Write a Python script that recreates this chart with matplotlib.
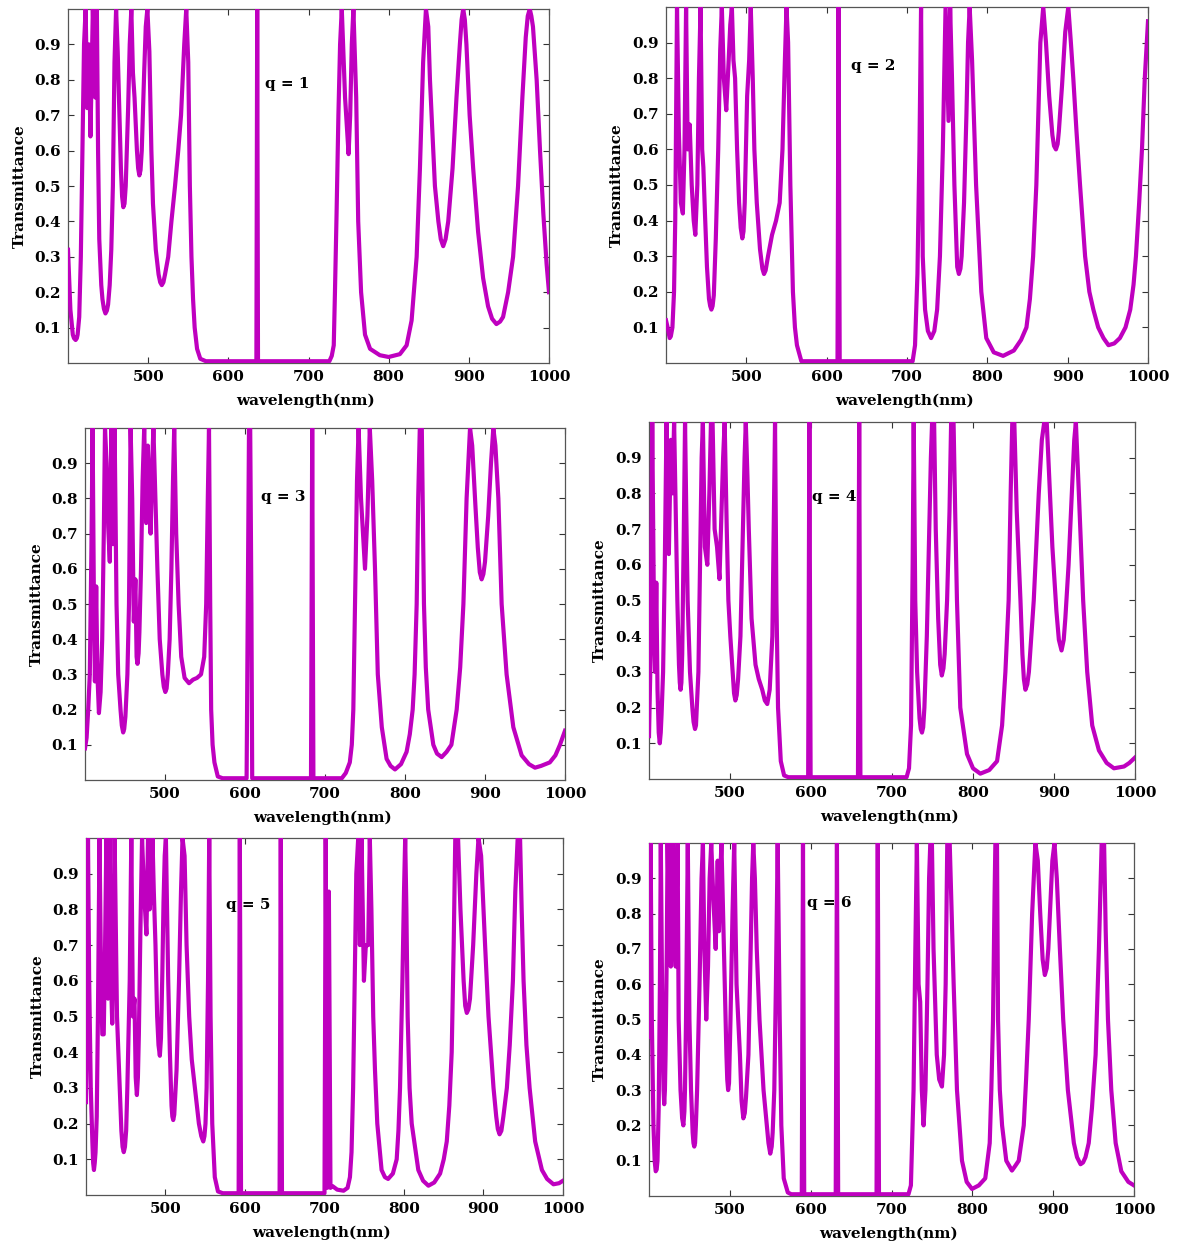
import matplotlib
matplotlib.use('Agg')
import matplotlib.pyplot as plt

plt.rcParams['font.family'] = ['DejaVu Serif']
plt.rcParams['font.weight'] = 'bold'
plt.rcParams['font.size'] = 11

# transmittance spectra: (wavelength nm, T)
q1_points = [(400, .32), (403, .15), (406, .08), (407.5, .07), (409.5, .065), (411, .07), (412, .08), (414, .13), (416, .3),
             (418, .6), (420, .9), (422, 1), (424, .72), (426, .9), (428, .64), (431, 1), (434, .75), (436, 1), (437.5, .6),
             (439, .35), (441.5, .22), (443, .18), (444.8, .153), (446.7, .14), (448.5, .148), (450, .165), (452, .22),
             (454, .32), (456, .5), (458, .85), (460, 1), (462, .88), (464, .72), (466, .55), (467.5, .47), (469, .44),
             (470.5, .45), (472, .5), (475, .72), (477, .9), (479, 1), (481, .82), (483, .75), (486, .6), (487.5, .55),
             (489, .53), (490.5, .545), (492, .6), (495, .82), (497, .95), (499, 1), (501.5, .88), (504, .6), (506, .45),
             (509.5, .32), (513, .25), (515, .228), (517, .22), (519, .228), (521, .25), (525, .3), (529, .4), (533.5, .5),
             (537.5, .6), (541, .7), (543, .8), (545, .9), (547.5, 1), (550, .85), (552, .5), (554, .3), (556, .18),
             (558, .1), (561, .04), (565, .012), (572, .005), (635, .005), (636, 1), (637, .005), (726, .005), (729, .02),
             (731.5, .05), (733, .2), (735, .42), (737.3, .7), (739.4, .9), (741.5, 1), (745.6, .75), (750, .59), (752, .7),
             (754, .9), (756, 1), (759.5, .75), (762, .4), (765.6, .2), (770.5, .08), (776.8, .04), (789, .022),
             (800, .017), (814, .025), (822.4, .05), (828.6, .12), (834.9, .3), (839, .55), (843, .85), (846.5, 1),
             (849.4, .95), (851.5, .8), (857.7, .5), (862, .4), (865, .35), (868, .33), (871, .35), (874.3, .4),
             (879.7, .55), (884.6, .75), (888.8, .9), (891, .97), (893, 1), (895, .97), (897, .9), (901, .7), (905.4, .55),
             (911.6, .37), (917.8, .24), (924, .16), (929, .125), (934.4, .11), (939, .117), (942.7, .13), (949, .2),
             (955.2, .3), (961.4, .5), (966.8, .75), (971, .92), (973.5, .98), (976, 1), (978, .98), (980, .95),
             (984.6, .8), (988.8, .6), (993, .42), (997, .28), (1000, .2)]

q2_points = [(400, .12), (402, .1), (404.6, .07), (406, .075), (408, .1), (410, .2), (411.5, .4), (413.7, 1), (416, .65),
             (418.5, .45), (421, .42), (423, .6), (425, 1), (427, .6), (429.5, .67), (432, .5), (434.5, .4), (436.5, .36),
             (439, .5), (441, .8), (443, 1), (445, .6), (446.5, .55), (448.5, .42), (451, .27), (453.5, .18), (455, .16),
             (456.5, .15), (458, .16), (459.5, .19), (462, .35), (465, .6), (467.5, .88), (469.5, 1), (472, .8),
             (475, .71), (478, .85), (480, .95), (482, 1), (484, .85), (486, .8), (488.5, .6), (491, .45), (493, .38),
             (495, .35), (496.5, .37), (498, .45), (501, .75), (503.5, .85), (505.5, 1), (508, .8), (510, .6), (513, .45),
             (517, .32), (520, .265), (522, .25), (524, .26), (527, .3), (532, .36), (537, .4), (541.5, .45), (545, .6),
             (548, .85), (550, 1), (552, .9), (554.8, .5), (558, .2), (560.5, .1), (563, .05), (568.5, .005),
             (613.5, .005), (614.8, 1), (616.2, .005), (707, .005), (710, .05), (713, .25), (715.5, .6), (717.5, 1),
             (719.6, .3), (722.5, .15), (726, .09), (730, .07), (734, .09), (737.5, .15), (741, .3), (744.6, .6),
             (748, 1), (751.7, .68), (753.7, 1), (756, .8), (759, .5), (762.5, .27), (764.6, .25), (766.5, .265),
             (768, .3), (771, .45), (774, .7), (776, .9), (778, 1), (781, .85), (786, .5), (792.5, .2), (798.7, .07),
             (808, .03), (819.6, .02), (833, .035), (842, .065), (848.7, .1), (853, .18), (857, .3), (861, .5), (866, .9),
             (869.6, 1), (873, .9), (877, .75), (881, .64), (883, .61), (885.4, .6), (887.5, .615), (889, .65),
             (893, .78), (897, .93), (900.8, 1), (904, .9), (907, .8), (911, .65), (915.4, .5), (921.7, .3), (927, .2),
             (932, .15), (938, .1), (944.6, .07), (950.8, .05), (958, .055), (965, .07), (972, .1), (977.9, .15),
             (982, .22), (985, .3), (989, .45), (992.5, .6), (996, .8), (1000, .96)]

q3_points = [(400, .09), (402, .12), (404, .2), (406, .3), (408, .65), (409.5, 1), (411, .55), (412.4, .28), (414, .55),
             (415.5, .3), (417.4, .19), (419.5, .25), (421.5, .4), (423.5, .7), (425, 1), (427, .9), (429, .72),
             (431, .62), (433, 1), (435, .67), (437, 1), (439.4, .5), (441.5, .3), (444.4, .2), (446, .155),
             (447.7, .135), (449, .145), (450.5, .18), (453, .3), (455, .5), (457, 1), (459, .8), (461, .45), (463, .57),
             (464.5, .35), (465.6, .33), (467, .36), (468, .42), (470, .6), (472, .85), (474, 1), (476.5, .73),
             (478.5, .95), (480.5, .78), (482, .7), (484, .9), (485.5, 1), (488, .8), (490.5, .6), (493.4, .4),
             (496.7, .3), (498.5, .265), (500.4, .25), (502, .26), (503.5, .3), (505.8, .4), (508, .6), (510, .85),
             (511.5, 1), (514, .7), (517, .5), (520.3, .35), (524.5, .29), (530, .275), (535, .285), (540, .29),
             (545, .3), (549, .35), (551.5, .5), (553.5, .8), (555, 1), (556.5, .5), (557.7, .2), (559.5, .1),
             (561.8, .05), (566, .01), (572, .005), (602, .005), (603.5, .5), (605, 1), (606.5, 1), (608, .5),
             (609, .005), (682.5, .005), (684, 1), (685.5, .005), (721, .005), (726, .02), (731, .05), (733.5, .1),
             (735.4, .2), (737.5, .5), (740, .85), (742, 1), (745, .8), (750, .6), (753, .75), (756, 1), (759, .85),
             (762.5, .6), (766, .3), (771, .15), (777, .06), (782, .04), (787.5, .03), (795, .045), (802, .08),
             (806, .13), (809.6, .2), (812, .3), (814.6, .5), (816.5, .8), (818.5, 1), (821, 1), (823.7, .5), (826, .32),
             (829, .2), (835.4, .1), (840, .075), (845.8, .065), (852, .08), (858, .1), (864.6, .2), (869, .32),
             (873, .5), (877, .8), (881.3, 1), (884, .95), (888, .78), (891, .66), (893.5, .59), (895.8, .57),
             (898, .585), (900, .62), (904, .75), (907.5, .9), (910.4, 1), (913, .95), (916.7, .8), (920.8, .5),
             (927, .3), (935.4, .15), (945.8, .07), (955, .045), (962.5, .035), (970, .04), (981, .05), (988, .07),
             (993.7, .1), (1000, .14)]

q4_points = [(400, .12), (402, .35), (404, 1), (406, .5), (407.5, .3), (409, .55), (410.5, .25), (412, .13), (413.3, .1),
             (414.5, .13), (415.5, .18), (417.4, .3), (419.5, .6), (421.6, 1), (424.5, .63), (427, .95), (429, .8),
             (431, 1), (433, .75), (435, .5), (437, .32), (438, .27), (439, .25), (440, .27), (441, .35), (443, .7),
             (444.5, 1), (446, .75), (447.7, .5), (450.6, .3), (453.5, .2), (455, .16), (456.8, .14), (458, .15),
             (459, .2), (461, .3), (463, .6), (465, .9), (466.5, 1), (469, .65), (472, .6), (474.5, .8), (476.5, 1),
             (478.5, 1), (481, .7), (484, .65), (487, .56), (489.5, .75), (491.5, .9), (493.4, 1), (496, .7), (498, .5),
             (500.4, .4), (503.3, .3), (505, .24), (506.6, .22), (508.3, .235), (510, .28), (512.9, .4), (516, .7),
             (518, .9), (519.5, 1), (521.5, .85), (523.2, .7), (526.6, .45), (531.5, .32), (535.5, .28), (539.8, .25),
             (543, .22), (546, .21), (549, .25), (552.3, .4), (554, .7), (555.6, 1), (557.3, .5), (559.3, .2),
             (562.7, .05), (566.8, .01), (572, .005), (596.5, .005), (598, 1), (599.5, .005), (658, .005), (659.5, 1),
             (661, .005), (718, .005), (721, .03), (723.5, .15), (725.5, .6), (726.8, 1), (728.7, .5), (731, .3),
             (734, .17), (735.5, .14), (737, .13), (738.5, .145), (740, .2), (743, .4), (746, .7), (748, .9),
             (749.5, 1), (752, 1), (754, .7), (757, .45), (759.5, .32), (761.5, .29), (763.5, .31), (765, .35),
             (768, .5), (771, .75), (773, 1), (776, 1), (778, .75), (780.2, .5), (784.3, .2), (792.6, .07), (800, .03),
             (809, .015), (820, .025), (829.7, .05), (835.9, .15), (840, .3), (844, .5), (846.5, .8), (848.5, 1),
             (851, 1), (854, .75), (858.6, .5), (861, .35), (862.8, .28), (864.7, .25), (867, .265), (869, .3),
             (875, .5), (881.2, .8), (885, .95), (888, 1), (891, 1), (894, .85), (898, .65), (903, .47), (906, .39),
             (909.3, .36), (912, .39), (914, .45), (918, .6), (922, .8), (925, .95), (927, 1), (930.7, .8), (936, .5),
             (941, .3), (947.2, .15), (955.5, .08), (965, .045), (974, .03), (986.4, .035), (993, .045), (1000, .06)]

q5_points = [(400, .26), (401.5, .6), (402.5, 1), (404, .6), (406, .3), (408, .15), (409, .09), (410, .07), (411, .09),
             (412, .12), (413.5, .22), (415, .5), (417, 1), (419, .6), (420.5, .45), (422.3, .45), (424, .7),
             (425.6, 1), (427.7, .55), (429.8, 1), (431.5, .6), (433, .48), (434.5, .7), (436, 1), (437.5, .75),
             (439, .5), (442.4, .3), (444.5, .18), (446, .135), (447.5, .12), (449, .135), (450.5, .18), (452, .3),
             (455, .6), (457, 1), (459, .5), (461, .55), (462.5, .33), (464, .28), (465.3, .33), (466.5, .45),
             (468.5, .75), (470.5, 1), (473, .85), (476, .73), (478, 1), (480, .8), (482, .85), (483.6, 1), (485.3, .85),
             (487.4, .7), (489.5, .5), (491.2, .42), (492.9, .39), (494.3, .44), (496, .62), (497.5, .82), (499, .95),
             (500.5, 1), (503.4, .6), (505.5, .4), (507.6, .25), (508.6, .22), (509.7, .21), (511, .225), (512, .27),
             (513.9, .35), (517, .6), (519.5, .85), (521.4, 1), (524, .95), (526.5, .7), (529.8, .5), (533, .38),
             (537, .3), (542, .2), (545, .165), (547.5, .15), (549, .165), (550.3, .2), (551.7, .3), (553.5, .6),
             (555, 1), (556.7, .5), (558.8, .2), (562, .05), (566, .01), (572, .005), (592, .005), (593.5, 1),
             (595, .005), (643.5, .005), (645, 1), (646.5, .005), (700, .005), (701.5, 1), (703.5, .02), (705.5, .85),
             (707.5, .02), (710, .025), (716, .015), (724, .012), (729, .02), (732, .05), (734, .12), (736, .3),
             (738, .6), (740, .9), (742.4, 1), (744.5, .7), (746.6, 1), (749.6, .6), (752, .7), (755, .7), (757, 1),
             (759, .8), (761.3, .5), (763.5, .35), (766.4, .2), (771.8, .07), (776, .05), (780, .045), (786, .06),
             (790.8, .1), (793, .18), (795, .3), (798, .6), (800, .85), (801.5, 1), (803, .8), (804.6, .5), (807, .3),
             (809.7, .2), (818, .07), (824, .04), (830.7, .026), (838, .035), (845.4, .06), (850, .1), (853.8, .15),
             (857, .25), (860, .4), (862.5, .7), (864.5, 1), (868, 1), (871, .8), (875, .6), (877, .53), (879, .51),
             (881, .52), (883, .55), (887, .7), (891, .9), (893.7, 1), (897, .95), (902, .7), (906.3, .5), (912.6, .3),
             (916, .22), (918, .185), (920.2, .17), (922.5, .18), (925, .22), (929.4, .3), (933, .42), (937, .6),
             (940, .85), (943, 1), (946, 1), (948, .8), (950.4, .6), (954, .42), (958, .3), (965, .15), (973.5, .07),
             (980, .045), (988, .03), (995, .033), (1000, .04)]

q6_points = [(400, .45), (401, .8), (402, 1), (403.5, .5), (405.5, .2), (407, .1), (408.3, .07), (409.5, .075),
             (410.5, .1), (412, .25), (413.5, .6), (414.6, 1), (416.5, .5), (418, .3), (418.8, .26), (419.7, .3),
             (420.5, .4), (422, .7), (423, 1), (425, .75), (427, .65), (429, 1), (431, .75), (433, .65), (435.4, 1),
             (436.7, .5), (439, .3), (441, .22), (442.5, .2), (443.8, .24), (444.5, .3), (445.8, .5), (448, 1),
             (450, .5), (452, .3), (454, .18), (455, .15), (456, .14), (457, .15), (458, .2), (459.5, .3), (462.5, .6),
             (465, .9), (466.7, 1), (468.5, .7), (470.8, .5), (473, .65), (475, .9), (477, 1), (479.5, .85),
             (482.5, .7), (485, .95), (486.5, .75), (488, .9), (489.6, 1), (491.7, .8), (493.7, .6), (495.8, .4),
             (496.8, .33), (497.9, .3), (499, .32), (500.8, .5), (503.3, .8), (505.4, 1), (508.3, .6), (512.5, .4),
             (514.5, .27), (516.7, .22), (518.5, .235), (520, .28), (523, .4), (525.8, .7), (527.5, .9), (529, 1),
             (531, .9), (533.3, .7), (536.7, .5), (541.7, .3), (545.8, .2), (547.8, .15), (550, .12), (551.8, .14),
             (553, .18), (555, .3), (557, .6), (559.2, 1), (561.7, .5), (563.7, .2), (566.7, .05), (571.7, .01),
             (576, .005), (589, .005), (590.5, 1), (592, .005), (631, .005), (632.5, 1), (634, .005), (681.5, .005),
             (683, 1), (684.5, .005), (721, .005), (724, .03), (727.3, .3), (729.5, .7), (731.4, 1), (733.5, .6),
             (735.5, .55), (737.5, .3), (739.7, .2), (742, .3), (744.5, .6), (746.5, .9), (748, 1), (750, 1), (752, .7),
             (756, .4), (759, .33), (762.4, .31), (765, .4), (767, .6), (769, 1), (772, 1), (774.5, .8), (776.9, .6),
             (781, .3), (787.2, .1), (793, .04), (799.6, .02), (808, .03), (816, .05), (821.5, .15), (823.5, .3),
             (825.6, .5), (827.5, .85), (828.5, 1), (830.5, 1), (831.8, .5), (834, .3), (836.8, .2), (842, .1),
             (849, .072), (853, .085), (857.4, .1), (863.6, .2), (866.5, .33), (869.8, .5), (874, .8), (878, 1),
             (881, .95), (884, .8), (887, .67), (889.7, .626), (892, .645), (894, .7), (896, .8), (899, .95),
             (901.6, 1), (904.5, .9), (908.3, .7), (912.4, .5), (918.2, .3), (925.6, .15), (929.5, .11), (933.9, .09),
             (937, .095), (940, .11), (944, .15), (948, .25), (952.5, .4), (956.6, .7), (958.5, .87), (960, 1),
             (963, 1), (965, .75), (967.8, .5), (971.9, .3), (977.3, .15), (984.3, .07), (993, .04), (1000, .03)]

labels = ['q = 1', 'q = 2', 'q = 3', 'q = 4', 'q = 5', 'q = 6']
series = [q1_points, q2_points, q3_points, q4_points, q5_points, q6_points]
x_ticks = [500, 600, 700, 800, 900, 1000]
y_ticks = [0.1, 0.2, 0.3, 0.4, 0.5, 0.6, 0.7, 0.8, 0.9]

# axes boxes in pixels (left, top, right, bottom) and where the q label sits (data coords)
W, H = 1177, 1245
boxes = [(68, 9, 549, 363), (666, 7, 1148, 363),
         (85, 428, 565, 780), (649, 422, 1135, 779),
         (86, 838, 563, 1195), (649, 843, 1134, 1196)]
q_pos = [(673, 0.788), (658.5, 0.835), (648.4, 0.803), (628.2, 0.789), (604.2, 0.812), (622.8, 0.831)]

line_color = '#BF00BF'

fig = plt.figure(figsize=(W / 100, H / 100), dpi=100)

for i, pts in enumerate(series):
    wl = [p[0] for p in pts]
    t = [p[1] for p in pts]
    l, top, r, b = boxes[i]
    ax = fig.add_axes([l / W, 1 - b / H, (r - l) / W, (b - top) / H])
    ax.plot(wl, t, color=line_color, lw=3.0, zorder=3)
    ax.set_xlim(400, 1000)
    ax.set_ylim(0, 1)
    ax.set_xticks(x_ticks)
    ax.set_yticks(y_ticks)
    ax.set_yticklabels([f'{v:.1f}' for v in y_ticks])
    ax.tick_params(direction='in', top=True, right=True, length=4, width=0.8,
                   labelsize=11, pad=5, colors='#333333', labelcolor='black')
    for s in ax.spines.values():
        s.set_linewidth(0.9)
        s.set_color('#555555')
    ax.set_xlabel('wavelength(nm)', fontsize=11, fontweight='bold')
    ax.set_ylabel('Transmittance', fontsize=11, fontweight='bold')
    ax.xaxis.label.set_va('center')
    ax.yaxis.label.set_va('center')
    ax.xaxis.set_label_coords(0.494, -0.107)
    ax.yaxis.set_label_coords(-0.101, 0.5)
    ax.text(q_pos[i][0], q_pos[i][1], labels[i], ha='center', va='center',
            fontsize=11, fontweight='bold', zorder=1)

fig.savefig('out.png', dpi=100)
